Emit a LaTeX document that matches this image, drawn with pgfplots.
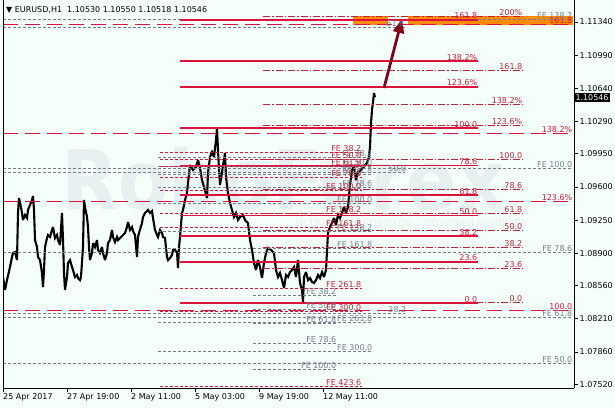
\documentclass[border=0pt]{standalone}
\usepackage{pgfplots}
\pgfplotsset{compat=1.18}
\usepackage{fontspec}
\setmainfont{DejaVu Sans}
\usetikzlibrary{arrows.meta}
\definecolor{bg}{RGB}{245,255,250}
\definecolor{crim}{RGB}{220,20,60}
\definecolor{fbr}{RGB}{190,35,55}
\definecolor{gry}{RGB}{115,125,140}
\definecolor{orng}{RGB}{255,140,0}
\definecolor{darr}{RGB}{130,0,30}
\definecolor{wm}{RGB}{230,240,240}
\newcommand{\lf}{\fontsize{8}{9}\selectfont}
\newcommand{\hl}[4][]{\addplot[#1] coordinates {(#2,#4) (#3,#4)};}
\newcommand{\lb}[4]{\node[anchor=south east, inner sep=0.5pt, text=#1, font=\lf] at (axis cs:#2,#3) {#4};}
\begin{document}
\begin{tikzpicture}
\useasboundingbox (0,0) rectangle (615pt,408pt);
\fill[bg] (0,0) rectangle (615pt,408pt);
\begin{axis}[
  at={(3pt,20pt)}, anchor=south west,
  scale only axis, width=571pt, height=388pt,
  xmin=3, xmax=574, ymin=1.07479, ymax=1.11572,
  axis background/.style={fill=bg},
  axis x line*=bottom, axis y line*=right,
  x axis line style={-}, y axis line style={-},
  clip mode=individual,
  tick align=outside, major tick length=4pt,
  tick style={black, line width=0.6pt},
  xtick={3,67,131,195,259,323},
  xticklabels={25 Apr 2017, 27 Apr 19:00, 2 May 11:00, 5 May 03:00, 9 May 19:00, 12 May 11:00},
  xticklabel style={anchor=north west, inner sep=1pt, xshift=-1pt, font=\lf},
  ytick={1.0752,1.0786,1.0821,1.0856,1.089,1.0925,1.096,1.0995,1.1029,1.1064,1.1099,1.1134},
  yticklabels={1.07520,1.07860,1.08210,1.08560,1.08900,1.09250,1.09600,1.09950,1.10290,1.10640,1.10990,1.11340},
  yticklabel style={anchor=west, inner sep=1.5pt, font=\lf},
  /pgf/number format/assume math mode=true,
]
% watermark
\node[anchor=base, text=wm, font=\fontsize{82}{82}\selectfont\bfseries, xscale=0.9] at (axis cs:283,1.09357) {RoboForex};
\node[anchor=base, text=wm, font=\fontsize{10}{10}\selectfont] at (axis cs:412,1.09180) {ИСПОЛЬЗУЙ РОБОТОВ – ПОЛУЧАЙ ПРИБЫЛЬ};
% price series
\addplot[black, line width=2.1pt, line join=miter, miter limit=3] coordinates {
(3,1.08650)(5,1.08513)(7,1.08618)(10,1.08755)(12,1.08861)(13,1.08903)(15,1.08913)(17,1.08829)(18,1.09325)(19,1.09483)(21,1.09388)(22,1.09325)(23,1.09251)(25,1.09304)(27,1.09272)(28,1.09357)(30,1.09409)(32,1.09462)(33,1.09504)(34,1.09357)(35,1.09040)(37,1.08966)(38,1.08861)(40,1.08829)(42,1.08692)(43,1.08544)(44,1.08724)(45,1.08966)(47,1.09061)(48,1.09093)(50,1.09072)(52,1.09146)(53,1.09177)(55,1.09061)(57,1.09093)(58,1.09040)(60,1.08987)(62,1.09325)(63,1.09040)(64,1.08692)(65,1.08513)(67,1.08650)(68,1.08797)(70,1.08829)(72,1.08755)(73,1.08724)(75,1.08650)(77,1.08671)(78,1.08639)(80,1.08618)(81,1.08650)(82,1.08808)(83,1.08966)(84,1.09462)(85,1.09388)(87,1.09283)(88,1.09177)(89,1.08966)(90,1.08829)(92,1.08903)(93,1.09008)(95,1.08966)(97,1.09040)(98,1.08935)(100,1.08903)(102,1.08966)(103,1.08903)(105,1.08829)(107,1.08903)(108,1.09008)(110,1.09040)(112,1.09146)(113,1.09072)(115,1.09019)(117,1.09072)(118,1.09040)(120,1.09061)(123,1.09093)(125,1.09114)(127,1.09177)(128,1.09230)(130,1.09146)(132,1.09177)(133,1.09135)(135,1.09093)(137,1.08861)(138,1.09072)(139,1.09114)(142,1.09219)(143,1.09283)(145,1.09325)(147,1.09346)(148,1.09357)(150,1.09325)(152,1.09346)(153,1.09272)(155,1.09146)(157,1.09093)(158,1.09072)(160,1.09146)(162,1.09114)(163,1.09072)(165,1.09061)(167,1.08861)(168,1.08829)(170,1.08850)(172,1.08882)(173,1.08935)(175,1.08935)(177,1.08913)(178,1.08745)(179,1.08966)(180,1.09072)(182,1.09325)(183,1.09357)(185,1.09462)(187,1.09536)(188,1.09641)(190,1.09831)(193,1.09779)(196,1.09810)(198,1.09884)(200,1.09800)(202,1.09673)(204,1.09599)(207,1.09483)(208,1.09747)(210,1.09916)(212,1.09968)(214,1.09916)(216,1.10095)(217,1.10222)(218,1.09990)(219,1.09779)(220,1.09620)(222,1.09757)(225,1.09958)(226,1.09705)(228,1.09536)(230,1.09430)(232,1.09357)(234,1.09283)(236,1.09325)(238,1.09251)(240,1.09283)(243,1.09304)(245,1.09251)(248,1.09219)(250,1.09040)(252,1.08935)(254,1.08797)(256,1.08724)(258,1.08829)(260,1.08755)(262,1.08639)(264,1.08797)(266,1.08903)(268,1.08956)(271,1.08935)(274,1.08903)(276,1.08724)(278,1.08650)(280,1.08692)(282,1.08618)(284,1.08534)(286,1.08671)(288,1.08650)(290,1.08702)(292,1.08724)(294,1.08755)(296,1.08650)(298,1.08829)(300,1.08586)(302,1.08513)(303,1.08386)(304,1.08650)(306,1.08702)(308,1.08618)(310,1.08639)(312,1.08597)(314,1.08586)(316,1.08618)(318,1.08671)(320,1.08639)(322,1.08702)(324,1.08650)(326,1.08724)(328,1.09114)(330,1.09177)(332,1.09219)(334,1.09272)(336,1.09198)(338,1.09304)(340,1.09272)(342,1.09325)(344,1.09388)(346,1.09325)(348,1.09388)(350,1.09620)(352,1.09779)(354,1.09810)(356,1.09673)(358,1.09757)(361,1.09779)(363,1.09800)(365,1.09831)(367,1.09852)(369,1.09916)(370,1.10021)(371,1.10274)(372,1.10412)(373,1.10496)(374,1.10591)(375,1.10546)
};
% orange target zones
\addplot[draw=none, fill=orng] coordinates {(353,1.11404)(388,1.11404)(388,1.11308)(353,1.11308)} -- cycle;
\addplot[draw=none, fill=orng] coordinates {(408,1.11404)(573,1.11404)(573,1.11308)(408,1.11308)} -- cycle;
% set G (gray, long range)
\hl[gry, line width=0.6pt, dash pattern=on 3pt off 2pt]{3}{405}{1.11287}
\hl[gry, line width=0.6pt, dash pattern=on 3pt off 2pt]{3}{405}{1.09757}
\hl[gry, line width=0.6pt, dash pattern=on 3pt off 2pt]{3}{405}{1.08270}
% set F (gray, whole chart)
\hl[gry, line width=0.6pt, dash pattern=on 3pt off 2pt]{3}{573}{1.11372}
\hl[gry, line width=0.6pt, dash pattern=on 3pt off 2pt]{3}{573}{1.09800}
\hl[gry, line width=0.6pt, dash pattern=on 3pt off 2pt]{3}{573}{1.08913}
\hl[gry, line width=0.6pt, dash pattern=on 3pt off 2pt]{3}{573}{1.08228}
\hl[gry, line width=0.6pt, dash pattern=on 3pt off 2pt]{3}{573}{1.07742}
% set E1 (gray FE)
\hl[gry, line width=0.6pt, dash pattern=on 3pt off 2pt]{158}{373}{1.09913}
\hl[gry, line width=0.6pt, dash pattern=on 3pt off 2pt]{158}{373}{1.09821}
\hl[gry, line width=0.6pt, dash pattern=on 3pt off 2pt]{158}{373}{1.09729}
\hl[gry, line width=0.6pt, dash pattern=on 3pt off 2pt]{158}{373}{1.09597}
\hl[gry, line width=0.6pt, dash pattern=on 3pt off 2pt]{158}{373}{1.09430}
\hl[gry, line width=0.6pt, dash pattern=on 3pt off 2pt]{158}{373}{1.09132}
\hl[gry, line width=0.6pt, dash pattern=on 3pt off 2pt]{158}{373}{1.08948}
\hl[gry, line width=0.6pt, dash pattern=on 3pt off 2pt]{158}{373}{1.08168}
\hl[gry, line width=0.6pt, dash pattern=on 3pt off 2pt]{158}{373}{1.07869}
% set E2 (gray FE)
\hl[gry, line width=0.6pt, dash pattern=on 3pt off 2pt]{253}{337}{1.08455}
\hl[gry, line width=0.6pt, dash pattern=on 3pt off 2pt]{253}{337}{1.08307}
\hl[gry, line width=0.6pt, dash pattern=on 3pt off 2pt]{253}{337}{1.08159}
\hl[gry, line width=0.6pt, dash pattern=on 3pt off 2pt]{253}{337}{1.07948}
\hl[gry, line width=0.6pt, dash pattern=on 3pt off 2pt]{253}{337}{1.07679}
% set D (red FE)
\hl[crim, line width=0.6pt, dash pattern=on 3pt off 2pt]{160}{362}{1.09966}
\hl[crim, line width=0.6pt, dash pattern=on 3pt off 2pt]{160}{362}{1.09890}
\hl[crim, line width=0.6pt, dash pattern=on 3pt off 2pt]{160}{362}{1.09814}
\hl[crim, line width=0.6pt, dash pattern=on 3pt off 2pt]{160}{362}{1.09706}
\hl[crim, line width=0.6pt, dash pattern=on 3pt off 2pt]{160}{362}{1.09569}
\hl[crim, line width=0.6pt, dash pattern=on 3pt off 2pt]{160}{362}{1.09323}
\hl[crim, line width=0.6pt, dash pattern=on 3pt off 2pt]{160}{362}{1.09171}
\hl[crim, line width=0.6pt, dash pattern=on 3pt off 2pt]{160}{362}{1.08529}
\hl[crim, line width=0.6pt, dash pattern=on 3pt off 2pt]{160}{362}{1.08284}
\hl[crim, line width=0.6pt, dash pattern=on 3pt off 2pt]{160}{362}{1.07492}
% set C (long dash, whole chart)
\hl[crim, line width=0.7pt, dash pattern=on 15pt off 7pt]{3}{573}{1.11312}
\hl[crim, line width=0.7pt, dash pattern=on 15pt off 7pt]{3}{573}{1.10162}
\hl[crim, line width=0.7pt, dash pattern=on 15pt off 7pt]{3}{573}{1.09451}
\hl[crim, line width=0.7pt, dash pattern=on 15pt off 7pt]{3}{573}{1.08302}
% set B (dash-dot)
\hl[fbr, line width=0.7pt, dash pattern=on 7pt off 2pt on 1.5pt off 2pt]{263}{523}{1.11404}
\hl[fbr, line width=0.7pt, dash pattern=on 7pt off 2pt on 1.5pt off 2pt]{263}{523}{1.10827}
\hl[fbr, line width=0.7pt, dash pattern=on 7pt off 2pt on 1.5pt off 2pt]{263}{523}{1.10471}
\hl[fbr, line width=0.7pt, dash pattern=on 7pt off 2pt on 1.5pt off 2pt]{263}{523}{1.10251}
\hl[fbr, line width=0.7pt, dash pattern=on 7pt off 2pt on 1.5pt off 2pt]{263}{523}{1.09895}
\hl[fbr, line width=0.7pt, dash pattern=on 7pt off 2pt on 1.5pt off 2pt]{263}{523}{1.09572}
\hl[fbr, line width=0.7pt, dash pattern=on 7pt off 2pt on 1.5pt off 2pt]{263}{523}{1.09318}
\hl[fbr, line width=0.7pt, dash pattern=on 7pt off 2pt on 1.5pt off 2pt]{263}{523}{1.09140}
\hl[fbr, line width=0.7pt, dash pattern=on 7pt off 2pt on 1.5pt off 2pt]{263}{523}{1.08962}
\hl[fbr, line width=0.7pt, dash pattern=on 7pt off 2pt on 1.5pt off 2pt]{263}{523}{1.08742}
\hl[fbr, line width=0.7pt, dash pattern=on 7pt off 2pt on 1.5pt off 2pt]{263}{523}{1.08386}
% set A (solid red)
\hl[crim, line width=1.6pt]{180}{478}{1.11363}
\hl[crim, line width=1.6pt]{180}{478}{1.10927}
\hl[crim, line width=1.6pt]{180}{478}{1.10657}
\hl[crim, line width=1.6pt]{180}{478}{1.10222}
\hl[crim, line width=1.6pt]{180}{478}{1.09827}
\hl[crim, line width=1.6pt]{180}{478}{1.09516}
\hl[crim, line width=1.6pt]{180}{478}{1.09299}
\hl[crim, line width=1.6pt]{180}{478}{1.09081}
\hl[crim, line width=1.6pt]{180}{478}{1.08811}
\hl[crim, line width=1.6pt]{180}{478}{1.08375}
% arrow
\draw[darr, line width=2.8pt, -{Triangle[length=14pt, width=11pt]}] (axis cs:384,1.10644) -- (axis cs:402,1.11372);
% labels set G
\lb{gry}{405}{1.11287}{61.8}
\lb{gry}{407}{1.09757}{50.0}
\lb{gry}{407}{1.08270}{38.2}
% labels set F
\lb{gry}{573}{1.11372}{FE 138.2}
\lb{gry}{573}{1.09800}{FE 100.0}
\lb{gry}{573}{1.08913}{FE 78.6}
\lb{gry}{573}{1.08228}{FE 61.8}
\lb{gry}{573}{1.07742}{FE 50.0}
% labels set E1
\lb{gry}{373}{1.09913}{FE 38.2}
\lb{gry}{373}{1.09821}{FE 50.0}
\lb{gry}{373}{1.09729}{FE 61.8}
\lb{gry}{373}{1.09597}{FE 78.6}
\lb{gry}{373}{1.09430}{FE 100.0}
\lb{gry}{373}{1.09132}{FE 138.2}
\lb{gry}{373}{1.08948}{FE 161.8}
\lb{gry}{373}{1.08168}{FE 261.8}
\lb{gry}{373}{1.07869}{FE 300.0}
% labels set E2
\lb{gry}{337}{1.08455}{FE 38.2}
\lb{gry}{337}{1.08307}{FE 50.0}
\lb{gry}{337}{1.08159}{FE 61.8}
\lb{gry}{337}{1.07948}{FE 78.6}
\lb{gry}{337}{1.07679}{FE 100.0}
% labels set D
\lb{fbr}{362}{1.09966}{FE 38.2}
\lb{fbr}{362}{1.09890}{FE 50.0}
\lb{fbr}{362}{1.09814}{FE 61.8}
\lb{fbr}{362}{1.09706}{FE 78.6}
\lb{fbr}{362}{1.09569}{FE 100.0}
\lb{fbr}{362}{1.09323}{FE 138.2}
\lb{fbr}{362}{1.09171}{FE 161.8}
\lb{fbr}{362}{1.08529}{FE 261.8}
\lb{fbr}{362}{1.08284}{FE 300.0}
\lb{fbr}{362}{1.07492}{FE 423.6}
% labels set C
\lb{crim}{573}{1.11312}{161.8}
\lb{crim}{573}{1.10162}{138.2\%}
\lb{crim}{573}{1.09451}{123.6\%}
\lb{crim}{573}{1.08302}{100.0}
% labels set B
\lb{fbr}{523}{1.11404}{200\%}
\lb{fbr}{523}{1.10827}{161.8}
\lb{fbr}{523}{1.10471}{138.2\%}
\lb{fbr}{523}{1.10251}{123.6\%}
\lb{fbr}{523}{1.09895}{100.0}
\lb{fbr}{523}{1.09572}{78.6}
\lb{fbr}{523}{1.09318}{61.8}
\lb{fbr}{523}{1.09140}{50.0}
\lb{fbr}{523}{1.08962}{38.2}
\lb{fbr}{523}{1.08742}{23.6}
\lb{fbr}{523}{1.08386}{0.0}
% labels set A
\lb{crim}{478}{1.11363}{161.8}
\lb{crim}{478}{1.10927}{138.2\%}
\lb{crim}{478}{1.10657}{123.6\%}
\lb{crim}{478}{1.10222}{100.0}
\lb{crim}{478}{1.09827}{78.6}
\lb{crim}{478}{1.09516}{61.8}
\lb{crim}{478}{1.09299}{50.0}
\lb{crim}{478}{1.09081}{38.2}
\lb{crim}{478}{1.08811}{23.6}
\lb{crim}{478}{1.08375}{0.0}
% title
\node[anchor=west, inner sep=0pt, font=\lf] at (axis cs:6,1.11467) {▼ EURUSD,H1\ \ 1.10530 1.10550 1.10518 1.10546};
% current price box
\node[anchor=west, fill=black, text=white, inner sep=1.3pt, font=\lf] at (axis cs:574,1.10546) {1.10546};
\draw[black, line width=0.6pt] (rel axis cs:0,0) -- (rel axis cs:0,1);
\end{axis}
\end{tikzpicture}
\end{document}
